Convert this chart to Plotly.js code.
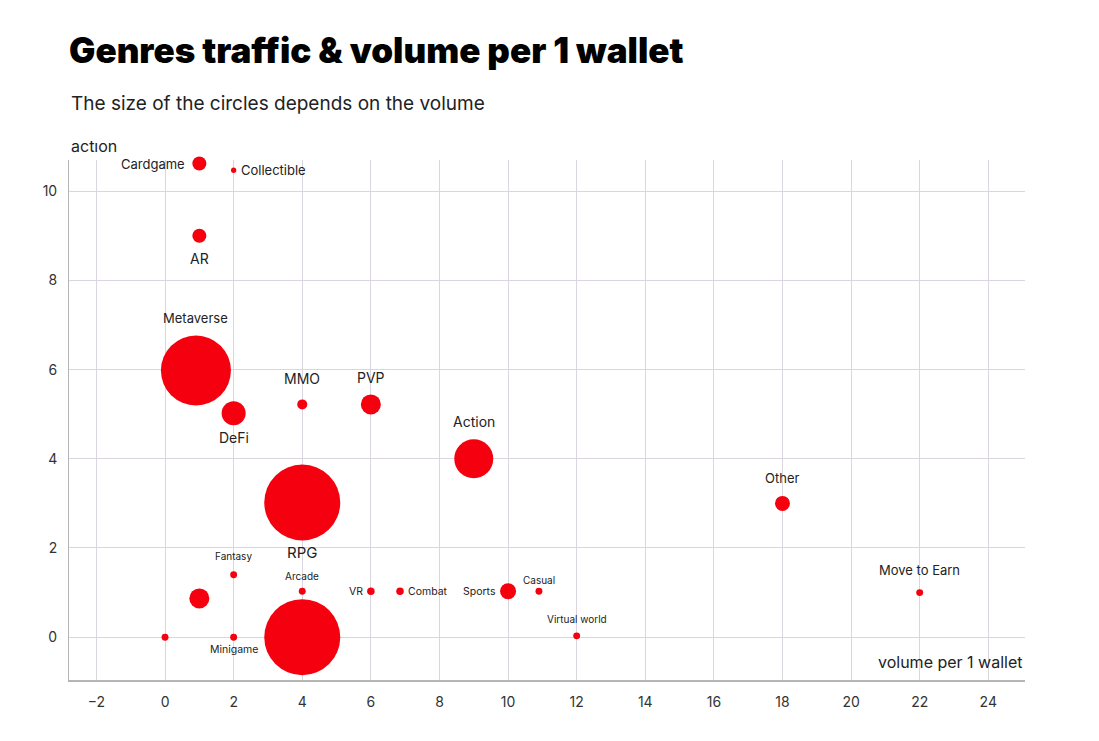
<!DOCTYPE html>
<html>
<head>
<meta charset="utf-8">
<script src="https://cdn.plot.ly/plotly-3.0.1.min.js"></script>
<style>
  html, body { margin: 0; padding: 0; background: #fff; }
  #chart { width: 1099px; height: 741px; }
</style>
</head>
<body>
<div id="chart"></div>
<script>
// ---- data ----
const genres = ["Cardgame", "Collectible", "AR", "Metaverse", "DeFi", "MMO", "PVP", "Action",
  "RPG", "Other", "Fantasy", "Arcade", "VR", "Combat", "Sports", "Casual", "", "", "Minigame",
  "", "Virtual world", "Move to Earn"];
const volumePerWallet = [1, 2, 1, 0.9, 2, 4, 6, 9, 4, 18, 2, 4, 6, 6.85, 10, 10.9, 1, 0, 2, 4, 12, 22];
const traffic = [10.62, 10.47, 9, 5.98, 5.02, 5.22, 5.22, 4, 3.02, 3, 1.4, 1.03, 1.03, 1.03, 1.03,
  1.03, 0.87, 0, 0, 0, 0.03, 1.0];
const volume = [49, 7, 49, 1225, 144, 25, 100, 380, 1444, 56, 12, 12, 14, 14, 64, 12, 100, 12, 12,
  1444, 12, 12];

// ---- label styling (position relative to bubble, font size, gap) ----
const labelPos = ["left", "right", "bottom", "top", "bottom", "top", "top", "top", "bottom", "top",
  "top", "top", "left", "right", "left", "top", "", "", "bottom", "", "top", "top"];
const labelSize = [13, 13, 14, 13, 14, 14, 14, 14, 15, 13, 10, 10, 10.5, 10.5, 10.5, 10, 0, 0, 10.5, 0, 10, 13];
const labelGap = [6, 4, 6, 9, 3, 11, 7, 8, 1, 9, 8, 5, 3, 3, 3, 1, 0, 0, 1, 0, 6, 10];

const SIZEREF = 0.5; // rendered diameter = 2*sqrt(volume)
const RED = "#f5000f";
const FONT = "Inter, 'Noto Sans', sans-serif";

const trace = {
  type: "scatter",
  mode: "markers",
  x: volumePerWallet,
  y: traffic,
  text: genres,
  hoverinfo: "text",
  cliponaxis: false,
  marker: {
    size: volume,
    sizemode: "area",
    sizeref: SIZEREF,
    color: RED,
    opacity: 1,
    line: { width: 0 }
  }
};

const annotations = [];
genres.forEach((g, i) => {
  if (!g) return;
  const r = Math.sqrt(volume[i]);
  const off = r + labelGap[i];
  const a = {
    x: volumePerWallet[i], y: traffic[i], xref: "x", yref: "y",
    text: g, showarrow: false, borderpad: 0,
    font: { family: FONT, size: labelSize[i], color: "#222" }
  };
  const p = labelPos[i];
  if (p === "top") { a.yanchor = "bottom"; a.xanchor = "center"; a.yshift = off; }
  else if (p === "bottom") { a.yanchor = "top"; a.xanchor = "center"; a.yshift = -off; }
  else if (p === "left") { a.xanchor = "right"; a.yanchor = "middle"; a.xshift = -off; }
  else { a.xanchor = "left"; a.yanchor = "middle"; a.xshift = off; }
  annotations.push(a);
});

annotations.push({
  text: "actıon", xref: "paper", yref: "paper", x: 0, y: 1, xanchor: "left", yanchor: "bottom",
  yshift: 2, showarrow: false, font: { family: FONT, size: 16, color: "#222" }
});
annotations.push({
  text: "volume per 1 wallet", xref: "paper", yref: "paper", x: 1, y: 0, xanchor: "right",
  yanchor: "bottom", yshift: 6, showarrow: false, font: { family: FONT, size: 16, color: "#222" }
});
annotations.push({
  text: "The size of the circles depends on the volume", xref: "paper", yref: "paper",
  x: 0, y: (680 - 104) / 520, yanchor: "middle", xanchor: "left", showarrow: false,
  font: { family: FONT, size: 19, color: "#222" }
});

const layout = {
  width: 1099, height: 741,
  paper_bgcolor: "#fff", plot_bgcolor: "#fff",
  margin: { l: 69, r: 74, t: 160, b: 61 },
  showlegend: false,
  title: {
    text: "Genres traffic &amp; volume per 1 wallet",
    font: { family: "Inter, Lato, sans-serif", size: 35, color: "#000", weight: 900 },
    x: 0, xref: "paper", xanchor: "left", y: 1 - 51 / 741, yanchor: "middle", yref: "container"
  },
  xaxis: {
    range: [-2.8, 25.07],
    tickvals: [-2, 0, 2, 4, 6, 8, 10, 12, 14, 16, 18, 20, 22, 24],
    ticks: "", showgrid: true, gridcolor: "#dbd5e0", gridwidth: 1,
    zeroline: false, showline: true, linecolor: "#b5b5b5", linewidth: 2,
    tickfont: { family: FONT, size: 14, color: "#333" }, ticklabelstandoff: 8
  },
  yaxis: {
    range: [-0.96, 10.7],
    tickvals: [0, 2, 4, 6, 8, 10],
    ticks: "", showgrid: true, gridcolor: "#dbd5e0", gridwidth: 1,
    zeroline: false, showline: true, linecolor: "#b5b5b5", linewidth: 1,
    tickfont: { family: FONT, size: 14, color: "#333" }, ticklabelstandoff: 8
  },
  annotations: annotations
};

Plotly.newPlot("chart", [trace], layout, { displayModeBar: false, staticPlot: true });
</script>
</body>
</html>
